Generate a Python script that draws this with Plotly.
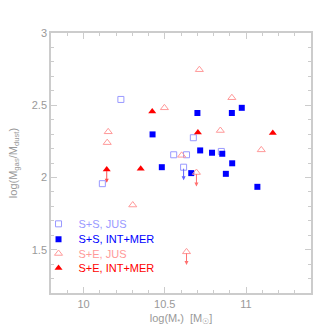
import plotly.graph_objects as go

# S+S, JUS (open squares)
ss_jus_x = [10.23, 10.116, 10.676, 10.555, 10.634, 10.848, 10.616]
ss_jus_y = [2.54, 1.957, 2.275, 2.157, 2.157, 2.18, 2.071]

# S+S, INT+MER (filled squares)
ss_im_x = [10.701, 10.913, 10.974, 10.425, 10.482, 10.718, 10.791, 10.854, 10.915, 10.876, 10.663, 11.07]
ss_im_y = [2.446, 2.446, 2.482, 2.298, 2.071, 2.187, 2.171, 2.164, 2.098, 2.025, 2.030, 1.935]

# S+E, JUS (open triangles)
se_jus_x = [10.713, 10.913, 10.498, 10.152, 10.146, 10.842, 11.094, 10.604, 10.695, 10.303, 10.634]
se_jus_y = [2.746, 2.552, 2.482, 2.316, 2.241, 2.325, 2.191, 2.153, 2.034, 1.809, 1.485]

# S+E, INT+MER (filled triangles)
se_im_x = [10.423, 10.704, 11.165, 10.143, 10.352]
se_im_y = [2.457, 2.311, 2.307, 2.055, 2.061]

# upper limits (arrows): x, y_from, y_to, colour
limit_x = [10.616, 10.695, 10.634, 10.143]
limit_y0 = [2.071, 2.034, 1.485, 2.055]
limit_y1 = [1.98, 1.937, 1.393, 1.964]
limit_col = ["#6060ff", "#ff7070", "#ff7070", "#ff5050"]

series_names = ["S+S, JUS", "S+S, INT+MER", "S+E, JUS", "S+E, INT+MER"]

C_SSJ = "#9999ff"
C_SSI = "#0000ff"
C_SEJ = "#ff9999"
C_SEI = "#ff0000"

FONT = "Liberation Sans, Arial"

fig = go.Figure()

def nm(t, c):
    return f"<span style='color:{c}'>{t}</span>"

fig.add_trace(go.Scatter(x=ss_jus_x, y=ss_jus_y, mode="markers", name=nm(series_names[0], C_SSJ),
                         legend="legend",
                         marker=dict(symbol="square-open", size=6, color=C_SSJ, line=dict(width=1))))
fig.add_trace(go.Scatter(x=ss_im_x, y=ss_im_y, mode="markers", name=nm(series_names[1], C_SSI),
                         legend="legend2",
                         marker=dict(symbol="square", size=6, color=C_SSI)))
fig.add_trace(go.Scatter(x=se_jus_x, y=se_jus_y, mode="markers", name=nm(series_names[2], C_SEJ),
                         legend="legend3",
                         marker=dict(symbol="triangle-up-open", size=7, color=C_SEJ, line=dict(width=1))))
fig.add_trace(go.Scatter(x=se_im_x, y=se_im_y, mode="markers", name=nm(series_names[3], C_SEI),
                         legend="legend4",
                         marker=dict(symbol="triangle-up", size=7, color=C_SEI)))

for x, y0, y1, c in zip(limit_x, limit_y0, limit_y1, limit_col):
    fig.add_annotation(x=x, y=y1, ax=x, ay=y0, xref="x", yref="y", axref="x", ayref="y",
                       showarrow=True, arrowhead=2, arrowsize=0.8, arrowwidth=1, arrowcolor=c,
                       standoff=0, startstandoff=0, text="")

axis_common = dict(
    showline=True, linecolor="#cccccc", linewidth=1.5, mirror="ticks",
    ticks="inside", ticklen=6, tickcolor="#cccccc", tickwidth=1,
    showgrid=False, zeroline=False,
    tickfont=dict(family=FONT, size=11, color="#999999"),
)

fig.update_xaxes(range=[9.8, 11.4], dtick=0.5, tick0=10,
                 minor=dict(dtick=0.1, ticks="inside", ticklen=3, tickcolor="#cccccc", showgrid=False),
                 title=dict(text="log(M<sub>*</sub>)  [M<sub>☉</sub>]", standoff=7,
                            font=dict(family=FONT, size=11, color="#999999")),
                 **axis_common)
fig.update_yaxes(range=[1.2, 3], dtick=0.5, tick0=1.5,
                 minor=dict(dtick=0.1, ticks="inside", ticklen=3, tickcolor="#cccccc", showgrid=False),
                 title=dict(text="log(M<sub>gas</sub>/M<sub>dust</sub>)", standoff=12,
                            font=dict(family=FONT, size=11, color="#999999")),
                 **axis_common)

leg_common = dict(x=-0.048, xanchor="left", yanchor="middle", bgcolor="rgba(0,0,0,0)",
                  font=dict(family=FONT, size=11), itemwidth=30)
fig.update_layout(
    width=314, height=326,
    margin=dict(l=51, r=1, t=33, b=29),
    paper_bgcolor="white", plot_bgcolor="white",
    showlegend=True,
    legend=dict(y=0.266, **leg_common),
    legend2=dict(y=0.207, **leg_common),
    legend3=dict(y=0.152, **leg_common),
    legend4=dict(y=0.096, **leg_common),
)

fig.write_html("out.html", config={"displayModeBar": False},
               post_script="document.body.style.margin='0';")
